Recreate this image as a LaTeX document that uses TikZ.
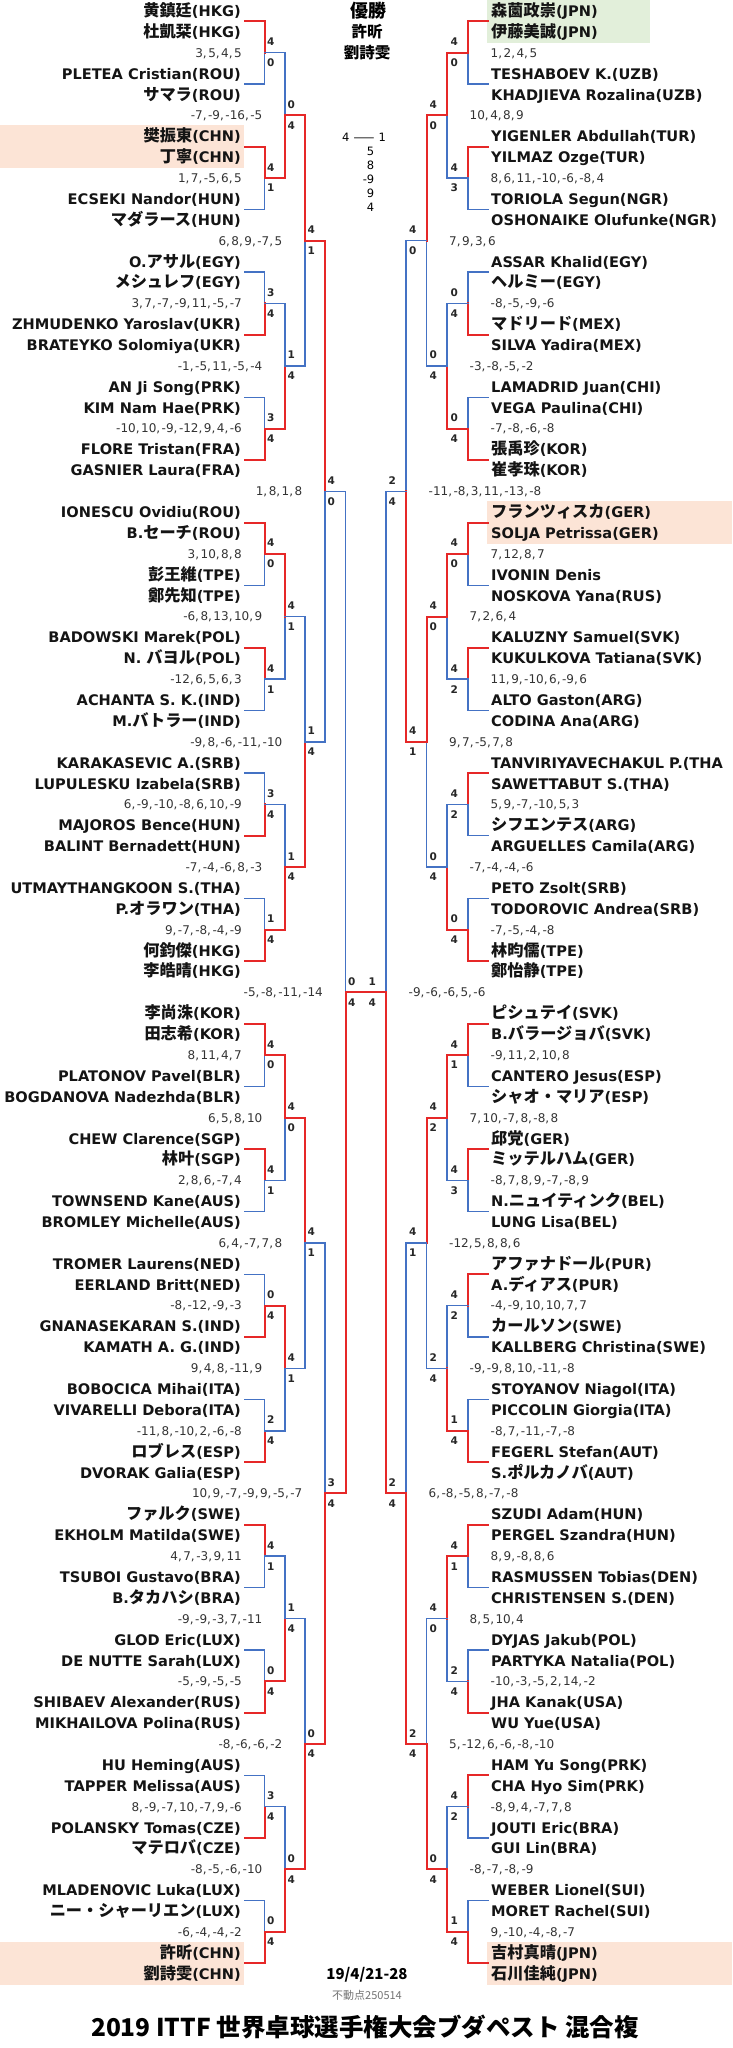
\documentclass[tikz,border=0pt]{standalone}
\usepackage{fontspec}
\setmainfont{DejaVu Sans}
\newfontfamily\cjk{Noto Sans CJK JP}
\newfontfamily\dvs{DejaVu Sans}
\definecolor{wred}{RGB}{230,40,40}
\definecolor{lblue}{RGB}{68,114,196}
\definecolor{peach}{RGB}{252,228,214}
\definecolor{lgreen}{RGB}{226,239,218}
\newXeTeXintercharclass\cmcls
\XeTeXcharclass`\,=\cmcls
\XeTeXinterchartoks\cmcls 0={\kern1.5pt}
\newcommand\J[1]{{\cjk\bfseries\fontsize{16.2}{17}\selectfont #1}}
\newcommand\namefont{\dvs\bfseries\fontsize{14.6}{16}\selectfont}
\newcommand\scfont{\dvs\fontsize{12}{13}\selectfont\XeTeXinterchartokenstate=1 }
\newcommand\labfont{\dvs\bfseries\fontsize{10.5}{11}\selectfont}
\newcommand\BM[5]{%
  \pgfmathsetmacro\bmS{6*2^(#2-1)}%
  \pgfmathsetmacro\bmt{\bmS*#3+\bmS/4-1}%
  \pgfmathsetmacro\bmb{\bmt+\bmS/2}%
  \pgfmathsetmacro\bmj{\bmt+\bmS/4}%
  \if#1L%
    \pgfmathsetmacro\bmp{{245,264.5,285,305,325,345.5}[#2-1]}%
    \pgfmathsetmacro\bmx{{245,264.5,285,305,325,345.5}[#2]}%
    \pgfmathsetmacro\bml{\bmx+2.5}%
  \else
    \pgfmathsetmacro\bmp{{488,468,447,426.5,406,386}[#2-1]}%
    \pgfmathsetmacro\bmx{{488,468,447,426.5,406,386}[#2]}%
    \pgfmathsetmacro\bml{\bmx-17.5}%
  \fi
  \ifnum#4>#5\relax
    \draw[lose] (\bmp,\bmb) -- (\bmx,\bmb) -- (\bmx,\bmj);
    \draw[win] (\bmp,\bmt) -- (\bmx,\bmt) -- (\bmx,\bmj);
  \else
    \draw[lose] (\bmp,\bmt) -- (\bmx,\bmt) -- (\bmx,\bmj);
    \draw[win] (\bmp,\bmb) -- (\bmx,\bmb) -- (\bmx,\bmj);
  \fi
  \node[lab] (t#1#2#3) at (\bml,\bmj-0.52) {#4};
  \node[lab] (b#1#2#3) at (\bml,\bmj+0.48) {#5};
}
\newcommand\LN[2]{\node[nm,anchor=east] (nL#1) at (241,#1) {#2};}
\newcommand\RN[2]{\node[nm,anchor=west] (nR#1) at (491,#1) {#2};}
\newcommand\LS[3]{\pgfmathsetmacro\lsx{{0,242,262.5,282.5,302.5,323}[#1]}\node[sc,anchor=east] (sL#2) at (\lsx,#2) {#3};}
\newcommand\RS[3]{\pgfmathsetmacro\lsx{{0,490.5,469.5,449,428.5,408.5}[#1]}\node[sc,anchor=west] (sR#2) at (\lsx,#2) {#3};}
\begin{document}
\begin{tikzpicture}[x=1pt,y=-20.88pt,
  win/.style={draw=wred,line width=2pt,line cap=rect},
  lose/.style={draw=lblue,line width=1.4pt,line cap=rect},
  nm/.style={font=\namefont,inner sep=0pt,text height=11pt,text depth=0pt,text=black!92},
  sc/.style={font=\scfont,inner sep=0pt,text height=8.7pt,text depth=0pt,text=black!80},
  lab/.style={font=\labfont,inner sep=0pt,text height=7.7pt,text depth=0pt,anchor=west,text=black!85},
  hd/.style={font=\cjk\bfseries\fontsize{15.5}{15.5}\selectfont,inner sep=0pt,text height=11.6pt,text depth=0pt},
  fs/.style={font=\dvs\fontsize{11.5}{12}\selectfont,inner sep=0pt,text height=8.4pt,text depth=0pt}]
\useasboundingbox (0pt,11pt) rectangle (732pt,-2037pt);
% highlights
\fill[peach] (0,5.47) rectangle (244,7.52);
\fill[peach] (0,92.47) rectangle (244,94.52);
\fill[lgreen] (487,-0.53) rectangle (650,1.52);
\fill[peach] (487,23.47) rectangle (732,25.52);
\fill[peach] (487,92.47) rectangle (732,94.52);
% left bracket
\BM{L}{1}{0}{4}{0}\BM{L}{1}{1}{4}{1}\BM{L}{1}{2}{3}{4}\BM{L}{1}{3}{3}{4}
\BM{L}{1}{4}{4}{0}\BM{L}{1}{5}{4}{1}\BM{L}{1}{6}{3}{4}\BM{L}{1}{7}{1}{4}
\BM{L}{1}{8}{4}{0}\BM{L}{1}{9}{4}{1}\BM{L}{1}{10}{0}{4}\BM{L}{1}{11}{2}{4}
\BM{L}{1}{12}{4}{1}\BM{L}{1}{13}{0}{4}\BM{L}{1}{14}{3}{4}\BM{L}{1}{15}{0}{4}
\BM{L}{2}{0}{0}{4}\BM{L}{2}{1}{1}{4}\BM{L}{2}{2}{4}{1}\BM{L}{2}{3}{1}{4}
\BM{L}{2}{4}{4}{0}\BM{L}{2}{5}{4}{1}\BM{L}{2}{6}{1}{4}\BM{L}{2}{7}{0}{4}
\BM{L}{3}{0}{4}{1}\BM{L}{3}{1}{1}{4}\BM{L}{3}{2}{4}{1}\BM{L}{3}{3}{0}{4}
\BM{L}{4}{0}{4}{0}\BM{L}{4}{1}{3}{4}
\BM{L}{5}{0}{0}{4}
% right bracket
\BM{R}{1}{0}{4}{0}\BM{R}{1}{1}{4}{3}\BM{R}{1}{2}{0}{4}\BM{R}{1}{3}{0}{4}
\BM{R}{1}{4}{4}{0}\BM{R}{1}{5}{4}{2}\BM{R}{1}{6}{4}{2}\BM{R}{1}{7}{0}{4}
\BM{R}{1}{8}{4}{1}\BM{R}{1}{9}{4}{3}\BM{R}{1}{10}{4}{2}\BM{R}{1}{11}{1}{4}
\BM{R}{1}{12}{4}{1}\BM{R}{1}{13}{2}{4}\BM{R}{1}{14}{4}{2}\BM{R}{1}{15}{1}{4}
\BM{R}{2}{0}{4}{0}\BM{R}{2}{1}{0}{4}\BM{R}{2}{2}{4}{0}\BM{R}{2}{3}{0}{4}
\BM{R}{2}{4}{4}{2}\BM{R}{2}{5}{2}{4}\BM{R}{2}{6}{4}{0}\BM{R}{2}{7}{0}{4}
\BM{R}{3}{0}{4}{0}\BM{R}{3}{1}{4}{1}\BM{R}{3}{2}{4}{1}\BM{R}{3}{3}{2}{4}
\BM{R}{4}{0}{2}{4}\BM{R}{4}{1}{2}{4}
\BM{R}{5}{0}{1}{4}
% final
\coordinate (fL) at (345.5,47);
\coordinate (fR) at (386,47);
\draw[win] (fL) -- (fR);
% left names
\LN{0}{\J{黄鎮廷}(HKG)}\LN{1}{\J{杜凱栞}(HKG)}
\LN{3}{PLETEA Cristian(ROU)}\LN{4}{\J{サマラ}(ROU)}
\LN{6}{\J{樊振東}(CHN)}\LN{7}{\J{丁寧}(CHN)}
\LN{9}{ECSEKI Nandor(HUN)}\LN{10}{\J{マダラース}(HUN)}
\LN{12}{O.\J{アサル}(EGY)}\LN{13}{\J{メシュレフ}(EGY)}
\LN{15}{ZHMUDENKO Yaroslav(UKR)}\LN{16}{BRATEYKO Solomiya(UKR)}
\LN{18}{AN Ji Song(PRK)}\LN{19}{KIM Nam Hae(PRK)}
\LN{21}{FLORE Tristan(FRA)}\LN{22}{GASNIER Laura(FRA)}
\LN{24}{IONESCU Ovidiu(ROU)}\LN{25}{B.\J{セーチ}(ROU)}
\LN{27}{\J{彭王維}(TPE)}\LN{28}{\J{鄭先知}(TPE)}
\LN{30}{BADOWSKI Marek(POL)}\LN{31}{N. \J{バヨル}(POL)}
\LN{33}{ACHANTA S. K.(IND)}\LN{34}{M.\J{バトラー}(IND)}
\LN{36}{KARAKASEVIC A.(SRB)}\LN{37}{LUPULESKU Izabela(SRB)}
\LN{39}{MAJOROS Bence(HUN)}\LN{40}{BALINT Bernadett(HUN)}
\LN{42}{UTMAYTHANGKOON S.(THA)}\LN{43}{P.\J{オラワン}(THA)}
\LN{45}{\J{何鈞傑}(HKG)}\LN{46}{\J{李皓晴}(HKG)}
\LN{48}{\J{李尚洙}(KOR)}\LN{49}{\J{田志希}(KOR)}
\LN{51}{PLATONOV Pavel(BLR)}\LN{52}{BOGDANOVA Nadezhda(BLR)}
\LN{54}{CHEW Clarence(SGP)}\LN{55}{\J{林叶}(SGP)}
\LN{57}{TOWNSEND Kane(AUS)}\LN{58}{BROMLEY Michelle(AUS)}
\LN{60}{TROMER Laurens(NED)}\LN{61}{EERLAND Britt(NED)}
\LN{63}{GNANASEKARAN S.(IND)}\LN{64}{KAMATH A. G.(IND)}
\LN{66}{BOBOCICA Mihai(ITA)}\LN{67}{VIVARELLI Debora(ITA)}
\LN{69}{\J{ロブレス}(ESP)}\LN{70}{DVORAK Galia(ESP)}
\LN{72}{\J{ファルク}(SWE)}\LN{73}{EKHOLM Matilda(SWE)}
\LN{75}{TSUBOI Gustavo(BRA)}\LN{76}{B.\J{タカハシ}(BRA)}
\LN{78}{GLOD Eric(LUX)}\LN{79}{DE NUTTE Sarah(LUX)}
\LN{81}{SHIBAEV Alexander(RUS)}\LN{82}{MIKHAILOVA Polina(RUS)}
\LN{84}{HU Heming(AUS)}\LN{85}{TAPPER Melissa(AUS)}
\LN{87}{POLANSKY Tomas(CZE)}\LN{88}{\J{マテロバ}(CZE)}
\LN{90}{MLADENOVIC Luka(LUX)}\LN{91}{\J{ニー・シャーリエン}(LUX)}
\LN{93}{\J{許昕}(CHN)}\LN{94}{\J{劉詩雯}(CHN)}
% right names
\RN{0}{\J{森薗政崇}(JPN)}\RN{1}{\J{伊藤美誠}(JPN)}
\RN{3}{TESHABOEV K.(UZB)}\RN{4}{KHADJIEVA Rozalina(UZB)}
\RN{6}{YIGENLER Abdullah(TUR)}\RN{7}{YILMAZ Ozge(TUR)}
\RN{9}{TORIOLA Segun(NGR)}\RN{10}{OSHONAIKE Olufunke(NGR)}
\RN{12}{ASSAR Khalid(EGY)}\RN{13}{\J{ヘルミー}(EGY)}
\RN{15}{\J{マドリード}(MEX)}\RN{16}{SILVA Yadira(MEX)}
\RN{18}{LAMADRID Juan(CHI)}\RN{19}{VEGA Paulina(CHI)}
\RN{21}{\J{張禹珍}(KOR)}\RN{22}{\J{崔孝珠}(KOR)}
\RN{24}{\J{フランツィスカ}(GER)}\RN{25}{SOLJA Petrissa(GER)}
\RN{27}{IVONIN Denis}\RN{28}{NOSKOVA Yana(RUS)}
\RN{30}{KALUZNY Samuel(SVK)}\RN{31}{KUKULKOVA Tatiana(SVK)}
\RN{33}{ALTO Gaston(ARG)}\RN{34}{CODINA Ana(ARG)}
\RN{36}{TANVIRIYAVECHAKUL P.(THA}\RN{37}{SAWETTABUT S.(THA)}
\RN{39}{\J{シフエンテス}(ARG)}\RN{40}{ARGUELLES Camila(ARG)}
\RN{42}{PETO Zsolt(SRB)}\RN{43}{TODOROVIC Andrea(SRB)}
\RN{45}{\J{林昀儒}(TPE)}\RN{46}{\J{鄭怡静}(TPE)}
\RN{48}{\J{ピシュテイ}(SVK)}\RN{49}{B.\J{バラージョバ}(SVK)}
\RN{51}{CANTERO Jesus(ESP)}\RN{52}{\J{シャオ・マリア}(ESP)}
\RN{54}{\J{邱党}(GER)}\RN{55}{\J{ミッテルハム}(GER)}
\RN{57}{N.\J{ニュイティンク}(BEL)}\RN{58}{LUNG Lisa(BEL)}
\RN{60}{\J{アファナドール}(PUR)}\RN{61}{A.\J{ディアス}(PUR)}
\RN{63}{\J{カールソン}(SWE)}\RN{64}{KALLBERG Christina(SWE)}
\RN{66}{STOYANOV Niagol(ITA)}\RN{67}{PICCOLIN Giorgia(ITA)}
\RN{69}{FEGERL Stefan(AUT)}\RN{70}{S.\J{ポルカノバ}(AUT)}
\RN{72}{SZUDI Adam(HUN)}\RN{73}{PERGEL Szandra(HUN)}
\RN{75}{RASMUSSEN Tobias(DEN)}\RN{76}{CHRISTENSEN S.(DEN)}
\RN{78}{DYJAS Jakub(POL)}\RN{79}{PARTYKA Natalia(POL)}
\RN{81}{JHA Kanak(USA)}\RN{82}{WU Yue(USA)}
\RN{84}{HAM Yu Song(PRK)}\RN{85}{CHA Hyo Sim(PRK)}
\RN{87}{JOUTI Eric(BRA)}\RN{88}{GUI Lin(BRA)}
\RN{90}{WEBER Lionel(SUI)}\RN{91}{MORET Rachel(SUI)}
\RN{93}{\J{吉村真晴}(JPN)}\RN{94}{\J{石川佳純}(JPN)}
% left scores
\LS1{2}{3,5,4,5}\LS1{8}{1,7,-5,6,5}\LS1{14}{3,7,-7,-9,11,-5,-7}
\LS1{20}{-10,10,-9,-12,9,4,-6}\LS1{26}{3,10,8,8}\LS1{32}{-12,6,5,6,3}
\LS1{38}{6,-9,-10,-8,6,10,-9}\LS1{44}{9,-7,-8,-4,-9}\LS1{50}{8,11,4,7}
\LS1{56}{2,8,6,-7,4}\LS1{62}{-8,-12,-9,-3}\LS1{68}{-11,8,-10,2,-6,-8}
\LS1{74}{4,7,-3,9,11}\LS1{80}{-5,-9,-5,-5}\LS1{86}{8,-9,-7,10,-7,9,-6}
\LS1{92}{-6,-4,-4,-2}
\LS2{5}{-7,-9,-16,-5}\LS3{11}{6,8,9,-7,5}\LS2{17}{-1,-5,11,-5,-4}
\LS4{23}{1,8,1,8}\LS2{29}{-6,8,13,10,9}\LS3{35}{-9,8,-6,-11,-10}
\LS2{41}{-7,-4,-6,8,-3}\LS5{47}{-5,-8,-11,-14}\LS2{53}{6,5,8,10}
\LS3{59}{6,4,-7,7,8}\LS2{65}{9,4,8,-11,9}\LS4{71}{10,9,-7,-9,9,-5,-7}
\LS2{77}{-9,-9,-3,7,-11}\LS3{83}{-8,-6,-6,-2}\LS2{89}{-8,-5,-6,-10}
% right scores
\RS1{2}{1,2,4,5}\RS1{8}{8,6,11,-10,-6,-8,4}\RS1{14}{-8,-5,-9,-6}
\RS1{20}{-7,-8,-6,-8}\RS1{26}{7,12,8,7}\RS1{32}{11,9,-10,6,-9,6}
\RS1{38}{5,9,-7,-10,5,3}\RS1{44}{-7,-5,-4,-8}\RS1{50}{-9,11,2,10,8}
\RS1{56}{-8,7,8,9,-7,-8,9}\RS1{62}{-4,-9,10,10,7,7}\RS1{68}{-8,7,-11,-7,-8}
\RS1{74}{8,9,-8,8,6}\RS1{80}{-10,-3,-5,2,14,-2}\RS1{86}{-8,9,4,-7,7,8}
\RS1{92}{9,-10,-4,-8,-7}
\RS2{5}{10,4,8,9}\RS3{11}{7,9,3,6}\RS2{17}{-3,-8,-5,-2}
\RS4{23}{-11,-8,3,11,-13,-8}\RS2{29}{7,2,6,4}\RS3{35}{9,7,-5,7,8}
\RS2{41}{-7,-4,-4,-6}\RS5{47}{-9,-6,-6,5,-6}\RS2{53}{7,10,-7,8,-8,8}
\RS3{59}{-12,5,8,8,6}\RS2{65}{-9,-9,8,10,-11,-8}\RS4{71}{6,-8,-5,8,-7,-8}
\RS2{77}{8,5,10,4}\RS3{83}{5,-12,6,-6,-8,-10}\RS2{89}{-8,-7,-8,-9}
% header
\node[hd,font=\cjk\bfseries\fontsize{18}{18}\selectfont,text height=12.5pt] (yusho) at (368,0) {優勝};
\node[hd] (ch1) at (367,1) {許昕};
\node[hd] (ch2) at (367,2) {劉詩雯};
\node[fs] (fscore) at (364pt,-126pt) {4 \scalebox{1.9}[1]{—} 1};
\node[fs,anchor=east] (g1) at (374.5pt,-140pt) {5};
\node[fs,anchor=east] (g2) at (374.5pt,-154pt) {8};
\node[fs,anchor=east] (g3) at (374.5pt,-168pt) {-9};
\node[fs,anchor=east] (g4) at (374.5pt,-182pt) {9};
\node[fs,anchor=east] (g5) at (374.5pt,-196pt) {4};
% footer
\node[font=\cjk\bfseries\fontsize{15}{15}\selectfont,inner sep=0pt] (date) at (367pt,-1964pt) {19/4/21-28};
\node[font=\cjk\fontsize{11}{11}\selectfont,text=black!55,inner sep=0pt] (fudo) at (367pt,-1984pt) {不動点250514};
\node[font=\cjk\bfseries\fontsize{24.5}{26}\selectfont,inner sep=0pt] (title) at (365pt,-2016pt) {2019 ITTF 世界卓球選手権大会ブダペスト 混合複};
\end{tikzpicture}
\end{document}
